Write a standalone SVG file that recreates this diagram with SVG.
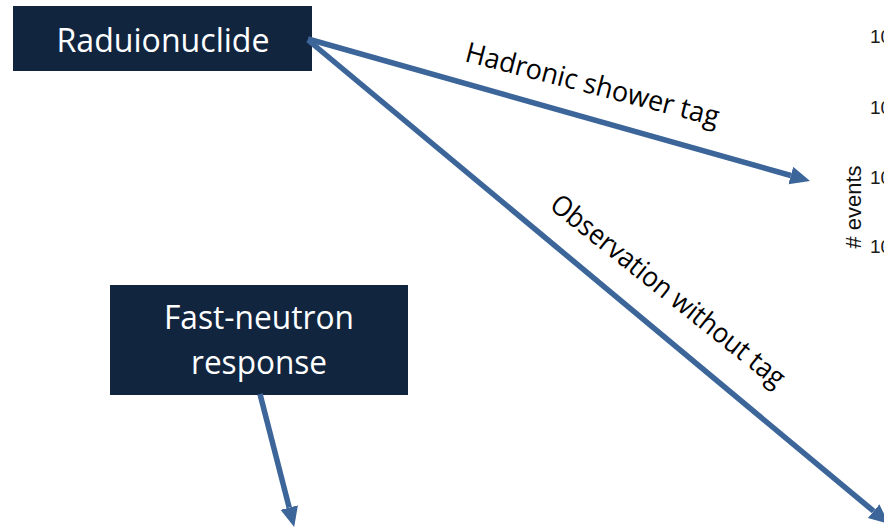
<svg xmlns="http://www.w3.org/2000/svg" width="884" height="530" viewBox="0 0 884 530">
  <style>
    .box { fill: #12253f; }
    .boxtext { font-family: "Open Sans", "Liberation Sans", sans-serif; font-size: 33px; fill: #ffffff; text-anchor: middle; }
    .conn { stroke: #3c6599; stroke-width: 5.5; fill: none; }
    .label { font-family: "Open Sans", "Liberation Sans", sans-serif; font-size: 28px; fill: #000000; text-anchor: middle; }
    .tick { font-family: "Liberation Sans", Arial, sans-serif; font-size: 19px; fill: #1a1a1a; }
    .axis { font-family: "Liberation Sans", Arial, sans-serif; font-size: 22px; fill: #111111; text-anchor: middle; }
  </style>
  <defs>
    <marker id="head" markerUnits="userSpaceOnUse" markerWidth="22" markerHeight="20" refX="0" refY="9" orient="auto">
      <path d="M0,0 L20,9 L0,18 Z" fill="#3c6599"/>
    </marker>
  </defs>
  <rect width="884" height="530" fill="#ffffff"/>

  <g id="chart-fragment">
    <text class="tick" x="870" y="43">10</text>
    <text class="tick" x="870" y="114">10</text>
    <text class="tick" x="870" y="184">10</text>
    <text class="tick" x="870" y="253">10</text>
    <text class="axis" transform="translate(861,207) rotate(-90)">
      <tspan x="0" y="0"># events</tspan>
    </text>
  </g>

  <g id="node-radionuclide">
    <rect class="box" x="13" y="6" width="299" height="65"/>
    <text class="boxtext" x="163" y="52" textLength="213" lengthAdjust="spacingAndGlyphs">Raduionuclide</text>
  </g>

  <g id="node-fast-neutron">
    <rect class="box" x="110" y="285" width="298" height="110"/>
    <text class="boxtext" x="259" y="329" textLength="190" lengthAdjust="spacingAndGlyphs">Fast-neutron</text>
    <text class="boxtext" x="259" y="374" textLength="136" lengthAdjust="spacingAndGlyphs">response</text>
  </g>

  <g id="connectors">
    <line class="conn" x1="308" y1="39" x2="790.8" y2="175.5" marker-end="url(#head)"/>
    <line class="conn" x1="308" y1="40" x2="873.6" y2="511.2" marker-end="url(#head)"/>
    <line class="conn" x1="260" y1="394" x2="289.2" y2="507.6" marker-end="url(#head)"/>
    <text class="label" transform="translate(592,86) rotate(14.5)" x="0" y="8" textLength="261" lengthAdjust="spacingAndGlyphs">Hadronic shower tag</text>
    <text class="label" transform="translate(667,292) rotate(38.5)" x="0" y="8" textLength="291" lengthAdjust="spacingAndGlyphs">Observation without tag</text>
  </g>
</svg>
